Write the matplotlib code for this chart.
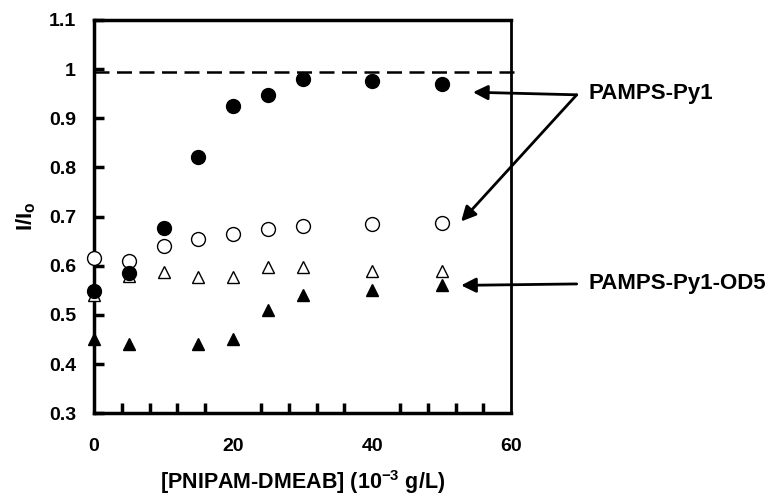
import numpy as np
import matplotlib.pyplot as plt

plt.rcParams['font.family'] = ['Liberation Sans', 'DejaVu Sans']
plt.rcParams['font.weight'] = 'bold'
plt.rcParams['axes.labelweight'] = 'bold'
plt.rcParams['mathtext.fontset'] = 'custom'
plt.rcParams['mathtext.rm'] = 'Liberation Sans:bold'
plt.rcParams['mathtext.it'] = 'Liberation Sans:bold'
plt.rcParams['mathtext.default'] = 'rm'

conc = [0, 5, 10, 15, 20, 25, 30, 40, 50]
py1_filled = [0.548, 0.585, 0.677, 0.822, 0.925, 0.948, 0.980, 0.975, 0.970]
py1_open = [0.615, 0.610, 0.640, 0.655, 0.665, 0.675, 0.680, 0.685, 0.687]
od5_open = [0.540, 0.580, 0.588, 0.578, 0.578, 0.598, 0.598, 0.590, 0.590]
conc_od5_filled = [0, 5, 15, 20, 25, 30, 40, 50]
od5_filled = [0.450, 0.440, 0.440, 0.450, 0.510, 0.540, 0.550, 0.560]
ref_level = 0.995

fig = plt.figure(figsize=(7.71, 4.99), dpi=100)
ax = fig.add_axes([0.122, 0.172, 0.541, 0.788])

ax.plot([0, 61], [ref_level, ref_level], ls=(0, (6, 3)), color='black', lw=1.8,
        clip_on=False, zorder=1)

ax.plot(conc, od5_open, '^', ms=9, mfc='white', mec='black', mew=1, clip_on=False, zorder=3)
ax.plot(conc_od5_filled, od5_filled, '^', ms=9, mfc='black', mec='black', clip_on=False, zorder=3)
ax.plot(conc, py1_open, 'o', ms=10, mfc='white', mec='black', mew=1, clip_on=False, zorder=4)
ax.plot(conc, py1_filled, 'o', ms=10, mfc='black', mec='black', clip_on=False, zorder=5)

ax.set_xlim(0, 60)
ax.set_ylim(0.3, 1.1)
ax.set_xticks([0, 20, 40, 60])
ax.set_xticks(np.arange(0, 61, 4), minor=True)
ax.set_yticks(np.arange(0.3, 1.11, 0.1))
ax.set_yticklabels(['0.3', '0.4', '0.5', '0.6', '0.7', '0.8', '0.9', '1', '1.1'])
ax.tick_params(axis='x', which='both', direction='in', length=7, width=2.5, top=False,
               labelsize=14, pad=18)
ax.tick_params(axis='x', which='major', length=0)
ax.tick_params(axis='y', which='both', direction='in', length=7, width=2.5, right=False,
               labelsize=14, pad=13)
for side in ['left', 'bottom', 'top']:
    ax.spines[side].set_linewidth(2.5)
ax.spines['right'].set_linewidth(2)

ax.set_xlabel('[PNIPAM-DMEAB] (10$^{-3}$ g/L)', fontsize=15.5, labelpad=9)
ax.set_ylabel('I/I$_{o}$', fontsize=16, labelpad=8)

arrow = dict(arrowstyle='-|>', color='black', lw=2, mutation_scale=22, shrinkA=0, shrinkB=0)
fig.text(0.763, 0.813, 'PAMPS-Py1', fontsize=16, fontweight='bold', va='center')
ax.annotate('', xy=(54.5, 0.953), xytext=(0.748, 0.81), textcoords='figure fraction',
            arrowprops=arrow, annotation_clip=False)
ax.annotate('', xy=(52.8, 0.690), xytext=(0.748, 0.81), textcoords='figure fraction',
            arrowprops=arrow, annotation_clip=False)
fig.text(0.763, 0.432, 'PAMPS-Py1-OD5', fontsize=16, fontweight='bold', va='center')
ax.annotate('', xy=(52.8, 0.560), xytext=(0.748, 0.431), textcoords='figure fraction',
            arrowprops=arrow, annotation_clip=False)

fig.savefig('out.png', dpi=100)
